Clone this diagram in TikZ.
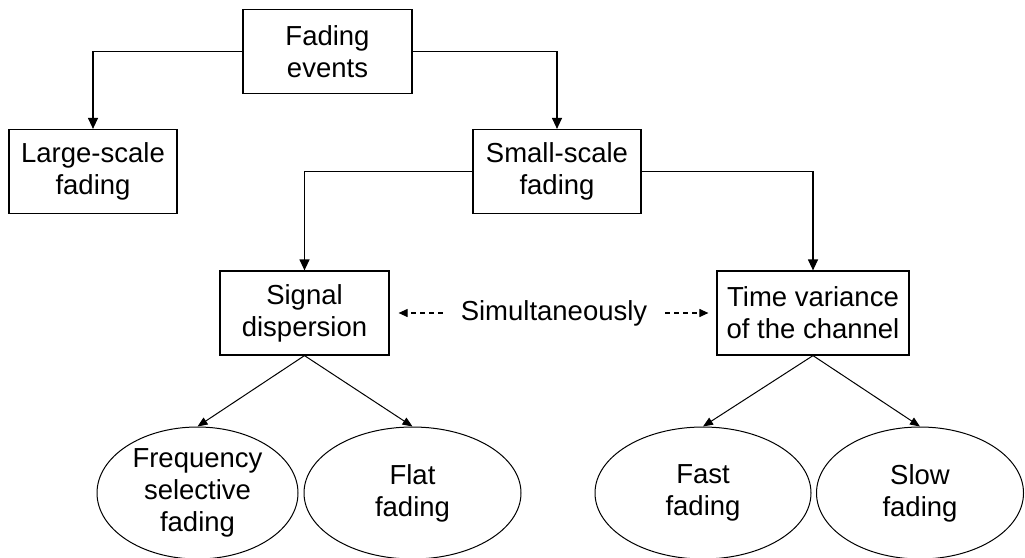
\documentclass[tikz,border=0pt]{standalone}
\usepackage{fontspec}
\setmainfont{Liberation Sans}
\usetikzlibrary{arrows.meta,shapes.geometric}
\begin{document}
\begin{tikzpicture}[x=1pt,y=-1pt,
  every node/.style={font=\fontsize{27.5}{32}\selectfont, align=center, inner sep=0pt},
  box/.style={draw, line width=1.2pt, minimum height=84pt},
  oval/.style={draw, ellipse, line width=1pt, minimum height=132pt},
  conn/.style={line width=1.2pt, -{Triangle[length=11pt,width=10pt]}},
  diag/.style={line width=1pt, -{Triangle[length=10pt,width=8pt]}},
  dasharrow/.style={line width=1.1pt, dash pattern=on 5pt off 4pt, -{Triangle[length=9pt,width=8pt]}}]
\useasboundingbox (0,0) rectangle (1025,557);
\node[box, minimum width=169pt] (fe) at (327.5,51.5) {Fading\\events};
\node[box, minimum width=168pt] (ls) at (93,171.5) {Large-scale\\fading};
\node[box, minimum width=168pt] (ss) at (557,171.5) {Small-scale\\fading};
\node[box, minimum width=169pt] (sd) at (304.5,313) {Signal\\dispersion};
\node[box, minimum width=192pt] (tv) at (813,313) {Time variance\\of the channel};
\node[inner xsep=18pt] (sim) at (554,313) {Simultaneously};
\node[oval, minimum width=201pt] (fs) at (197.5,493) {Frequency\\selective\\fading};
\node[oval, minimum width=217pt] (ff) at (412.5,493) {Flat\\fading};
\node[oval, minimum width=216pt] (fa) at (703,493) {Fast\\fading};
\node[oval, minimum width=207pt] (sl) at (920,493) {Slow\\fading};
\draw[conn] (fe.west) -| (ls.north);
\draw[conn] (fe.east) -| (ss.north);
\draw[conn] (ss.west) -| (sd.north);
\draw[conn] (ss.east) -| (tv.north);
\draw[dasharrow, shorten >=9pt] (sim.west) -- (sd.east);
\draw[dasharrow, shorten >=8pt] (sim.east) -- (tv.west);
\draw[diag] (sd.south) -- (fs.north);
\draw[diag] (sd.south) -- (ff.north);
\draw[diag] (tv.south) -- (fa.north);
\draw[diag] (tv.south) -- (sl.north);
\end{tikzpicture}
\end{document}
